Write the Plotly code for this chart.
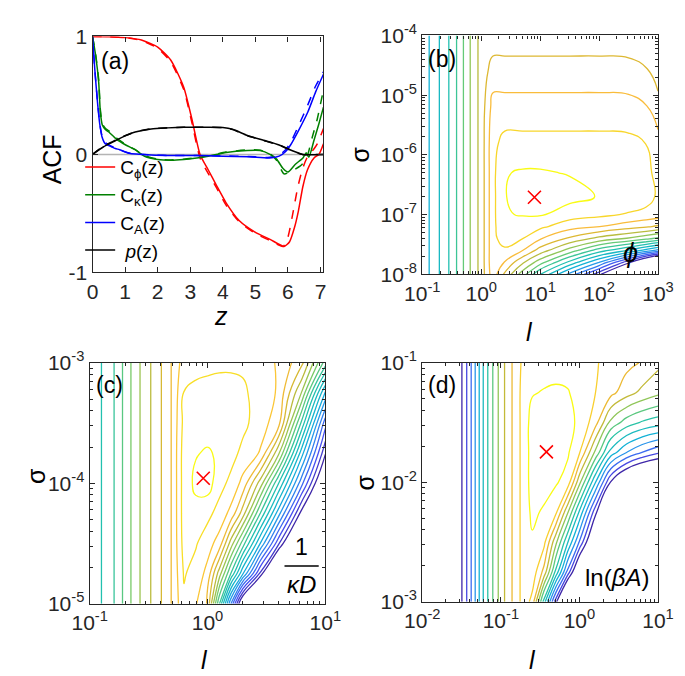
import plotly.graph_objects as go

FONT = "Liberation Sans, Arial, Helvetica, sans-serif"
W, H = 685, 676
AX = "#262626"

# ---------------- (a) autocorrelation functions ----------------
z_phi = [0.0, 0.5, 1.0, 1.5, 2.0, 2.4, 2.8, 3.05, 3.3, 3.55, 3.8, 4.1, 4.5, 5.0, 5.45, 5.88,
         6.05, 6.2, 6.32, 6.46, 6.6, 6.8, 6.95, 7.09]
c_phi = [1.0, 0.998, 0.99, 0.97, 0.91, 0.80, 0.57, 0.30, 0.0, -0.13, -0.26, -0.41, -0.56, -0.66,
         -0.72, -0.78, -0.74, -0.62, -0.48, -0.27, -0.13, -0.03, 0.0, 0.09]
z_phi_d = [0.0, 0.5, 1.0, 1.5, 2.0, 2.4, 2.8, 3.05, 3.3, 3.55, 3.8, 4.1, 4.5, 5.0, 5.45, 5.85,
           6.0, 6.15, 6.3, 6.45, 6.6, 6.75, 6.9, 7.09]
c_phi_d = [1.0, 0.998, 0.99, 0.965, 0.90, 0.785, 0.55, 0.27, -0.03, -0.16, -0.28, -0.43, -0.57,
           -0.67, -0.73, -0.78, -0.70, -0.50, -0.28, -0.12, -0.02, 0.03, 0.09, 0.22]

z_kap = [0.0, 0.1, 0.19, 0.24, 0.3, 0.4, 0.5, 0.73, 1.02, 1.31, 1.6, 2.0, 2.4, 2.8, 3.2, 3.55,
         4.1, 4.75, 5.15, 5.45, 5.65, 5.85, 6.0, 6.22, 6.46, 6.56, 6.64, 6.8, 6.95, 7.09]
c_kap = [1.0, 0.83, 0.61, 0.36, 0.25, 0.21, 0.19, 0.13, 0.08, 0.04, -0.016, -0.043, -0.049,
         -0.043, -0.03, -0.015, 0.016, 0.033, 0.033, 0.0, -0.04, -0.12, -0.15, -0.085, -0.03,
         0.015, -0.025, 0.12, 0.26, 0.40]
z_kap_d = [0.0, 0.1, 0.19, 0.24, 0.3, 0.4, 0.5, 0.73, 1.02, 1.31, 1.6, 2.0, 2.4, 2.8, 3.2, 3.55,
           4.1, 4.75, 5.15, 5.45, 5.65, 5.88, 6.12, 6.37, 6.51, 6.61, 6.75, 6.9, 7.09]
c_kap_d = [1.0, 0.84, 0.63, 0.38, 0.26, 0.22, 0.2, 0.14, 0.085, 0.04, -0.01, -0.04, -0.047,
           -0.04, -0.028, -0.012, 0.02, 0.038, 0.036, 0.005, -0.05, -0.165, -0.14, -0.10,
           -0.06, 0.0, 0.15, 0.30, 0.55]

z_A = [0.0, 0.07, 0.15, 0.22, 0.29, 0.39, 0.5, 0.58, 0.7, 0.83, 1.12, 1.8, 2.5, 3.2, 4.0, 4.8,
       5.44, 5.73, 5.93, 6.08, 6.32, 6.61, 6.85, 7.09]
c_A = [1.0, 0.72, 0.45, 0.26, 0.15, 0.09, 0.075, 0.065, 0.05, 0.04, 0.01, -0.005, -0.01, -0.01,
       -0.015, -0.02, -0.03, -0.015, 0.025, 0.08, 0.2, 0.36, 0.53, 0.68]
c_A_d = [1.0, 0.72, 0.46, 0.27, 0.16, 0.10, 0.08, 0.07, 0.055, 0.04, 0.012, -0.004, -0.01, -0.01,
         -0.013, -0.018, -0.025, -0.005, 0.04, 0.10, 0.24, 0.42, 0.58, 0.70]

z_p = [0.0, 0.34, 0.63, 0.92, 1.31, 1.8, 2.3, 2.8, 3.5, 4.0, 4.3, 4.76, 5.25, 5.73, 6.12, 6.45, 7.09]
c_p = [0.0, 0.065, 0.106, 0.147, 0.19, 0.216, 0.225, 0.23, 0.23, 0.228, 0.213, 0.16, 0.12, 0.08,
       0.033, 0.0, 0.0]
c_p_d = [0.0, 0.07, 0.11, 0.15, 0.192, 0.217, 0.226, 0.23, 0.23, 0.227, 0.21, 0.158, 0.118, 0.078,
         0.03, 0.0, 0.0]

# ---------------- (b) phi landscape (log10 l, log10 sigma) ----------------
b_log_l = [-1.0, -0.8, -0.6, -0.4, -0.2, 0.0, 0.2, 0.4, 0.7, 1.0, 1.5, 2.0, 2.5, 2.8, 3.0]
b_log_sigma = [-8.0, -7.8, -7.6, -7.4, -7.2, -7.0, -6.7, -6.3, -5.8, -5.2, -4.6, -4.0]
b_value = [
    [0.30, 0.375, 0.445, 0.54, 0.65, 0.745, 0.88, 0.77, 0.625, 0.47, 0.26, 0.05, -0.25, -0.45, -0.60],
    [0.30, 0.375, 0.445, 0.54, 0.65, 0.745, 0.89, 0.84, 0.73, 0.62, 0.45, 0.28, 0.05, -0.15, -0.30],
    [0.30, 0.375, 0.445, 0.54, 0.65, 0.745, 0.89, 0.895, 0.845, 0.755, 0.63, 0.50, 0.40, 0.32, 0.26],
    [0.30, 0.375, 0.445, 0.54, 0.65, 0.745, 0.89, 0.935, 0.908, 0.85, 0.77, 0.70, 0.65, 0.61, 0.58],
    [0.30, 0.375, 0.445, 0.54, 0.65, 0.745, 0.89, 0.955, 0.94, 0.92, 0.87, 0.845, 0.81, 0.79, 0.772],
    [0.30, 0.375, 0.445, 0.54, 0.65, 0.745, 0.89, 0.965, 0.972, 0.975, 0.935, 0.92, 0.90, 0.885, 0.875],
    [0.30, 0.375, 0.445, 0.54, 0.65, 0.745, 0.89, 0.965, 1.0, 1.0, 0.99, 0.965, 0.952, 0.935, 0.895],
    [0.30, 0.375, 0.445, 0.54, 0.65, 0.745, 0.89, 0.965, 0.975, 0.975, 0.965, 0.945, 0.942, 0.925, 0.885],
    [0.30, 0.375, 0.445, 0.54, 0.65, 0.745, 0.89, 0.925, 0.925, 0.925, 0.925, 0.925, 0.922, 0.905, 0.865],
    [0.30, 0.375, 0.445, 0.54, 0.65, 0.745, 0.868, 0.868, 0.868, 0.868, 0.868, 0.868, 0.865, 0.848, 0.808],
    [0.30, 0.375, 0.445, 0.54, 0.65, 0.745, 0.808, 0.808, 0.808, 0.808, 0.808, 0.808, 0.805, 0.788, 0.748],
    [0.30, 0.375, 0.445, 0.54, 0.65, 0.745, 0.745, 0.745, 0.745, 0.745, 0.745, 0.745, 0.742, 0.74, 0.73],
]
b_best = (8.0, 1.95e-7)

# ---------------- (c) 1/(kappa D) landscape ----------------
c_log_l = [-1.0, -0.8, -0.6, -0.4, -0.3, -0.2, -0.1, 0.0, 0.1, 0.2, 0.3, 0.45, 0.6, 0.8, 1.0]
c_log_sigma = [-5.0, -4.75, -4.5, -4.25, -4.0, -3.75, -3.5, -3.25, -3.0]
c_value = [
    [0.43, 0.52, 0.66, 0.77, 0.83, 0.915, 0.88, 0.82, 0.53, 0.22, -0.08, -0.40, -0.80, -1.50, -2.00],
    [0.43, 0.52, 0.66, 0.77, 0.83, 0.93, 0.905, 0.86, 0.70, 0.52, 0.33, 0.06, -0.22, -0.60, -0.70],
    [0.43, 0.52, 0.66, 0.77, 0.83, 0.945, 0.93, 0.895, 0.855, 0.70, 0.55, 0.32, 0.09, -0.22, -0.50],
    [0.43, 0.52, 0.66, 0.77, 0.83, 0.95, 0.96, 0.94, 0.905, 0.86, 0.75, 0.52, 0.30, 0.0, -0.30],
    [0.43, 0.52, 0.66, 0.77, 0.83, 0.95, 0.985, 0.998, 0.945, 0.91, 0.86, 0.70, 0.48, 0.19, -0.10],
    [0.43, 0.52, 0.66, 0.77, 0.83, 0.95, 0.972, 0.98, 0.968, 0.945, 0.91, 0.87, 0.69, 0.345, 0.03],
    [0.43, 0.52, 0.66, 0.77, 0.83, 0.94, 0.95, 0.955, 0.955, 0.95, 0.94, 0.895, 0.85, 0.51, 0.145],
    [0.43, 0.52, 0.66, 0.77, 0.83, 0.927, 0.94, 0.945, 0.945, 0.945, 0.935, 0.90, 0.87, 0.67, 0.315],
    [0.43, 0.52, 0.66, 0.77, 0.83, 0.90, 0.905, 0.91, 0.915, 0.915, 0.915, 0.895, 0.87, 0.79, 0.55],
]
c_best = (0.92, 1.1e-4)

# ---------------- (d) ln(beta A) landscape ----------------
d_log_l = [-2.0, -1.6, -1.5, -1.4, -1.3, -1.2, -1.1, -1.0, -0.9, -0.8, -0.7, -0.6, -0.45, -0.3,
           -0.15, 0.0, 0.2, 0.4, 0.6, 0.8, 1.0]
d_log_sigma = [-3.0, -2.75, -2.5, -2.25, -2.0, -1.75, -1.5, -1.25, -1.0]
d_value = [
    [-0.6, -0.07, 0.035, 0.16, 0.31, 0.46, 0.58, 0.69, 0.775, 0.85, 0.925,
     0.857, 0.46, 0.067, -0.33, -0.60, -0.80, -0.90, -1.0, -1.0, -1.0],
    [-0.6, -0.07, 0.035, 0.16, 0.31, 0.46, 0.58, 0.69, 0.775, 0.85, 0.925,
     0.935, 0.78, 0.48, 0.17, -0.14, -0.50, -0.70, -0.80, -0.80, -0.80],
    [-0.6, -0.07, 0.035, 0.16, 0.31, 0.46, 0.58, 0.69, 0.775, 0.85, 0.925,
     0.95, 0.905, 0.672, 0.43, 0.187, -0.14, -0.40, -0.50, -0.55, -0.60],
    [-0.6, -0.07, 0.035, 0.16, 0.31, 0.46, 0.58, 0.69, 0.775, 0.85, 0.925,
     0.975, 0.95, 0.90, 0.663, 0.41, 0.07, -0.25, -0.40, -0.45, -0.50],
    [-0.6, -0.07, 0.035, 0.16, 0.31, 0.46, 0.58, 0.69, 0.775, 0.85, 0.925,
     0.99, 0.99, 0.968, 0.93, 0.675, 0.355, 0.03, -0.15, -0.25, -0.30],
    [-0.6, -0.07, 0.035, 0.16, 0.31, 0.46, 0.58, 0.69, 0.775, 0.85, 0.925,
     0.99, 1.0, 0.99, 0.97, 0.89, 0.64, 0.39, 0.27, 0.19, 0.13],
    [-0.6, -0.07, 0.035, 0.16, 0.31, 0.46, 0.58, 0.69, 0.775, 0.85, 0.925,
     0.99, 0.995, 0.99, 0.975, 0.95, 0.84, 0.63, 0.54, 0.49, 0.46],
    [-0.6, -0.07, 0.035, 0.16, 0.31, 0.46, 0.58, 0.69, 0.775, 0.85, 0.925,
     0.955, 0.965, 0.97, 0.965, 0.935, 0.885, 0.83, 0.76, 0.71, 0.67],
    [-0.6, -0.07, 0.035, 0.16, 0.31, 0.46, 0.58, 0.69, 0.775, 0.85, 0.91,
     0.915, 0.93, 0.935, 0.93, 0.915, 0.89, 0.86, 0.83, 0.80, 0.75],
]
d_best = (0.38, 0.018)

PARULA = [
    [0.000, "rgb(62,38,168)"], [0.111, "rgb(72,82,244)"], [0.254, "rgb(39,150,235)"],
    [0.333, "rgb(18,177,214)"], [0.492, "rgb(36,194,170)"], [0.619, "rgb(113,203,110)"],
    [0.683, "rgb(155,196,81)"], [0.746, "rgb(193,186,58)"], [0.810, "rgb(226,184,49)"],
    [0.873, "rgb(252,189,60)"], [0.937, "rgb(248,216,42)"], [1.000, "rgb(249,251,21)"],
]


def px(x):
    return x / W


def py(y):
    return 1 - y / H


fig = go.Figure()

# zero reference line in (a)
fig.add_shape(type="line", xref="x", yref="y", x0=0, x1=7.09, y0=0, y1=0,
              line=dict(color="#b4b4b4", width=1.5), layer="below")

series_a = [
    (z_phi, c_phi, z_phi_d, c_phi_d, "red", "C<sub>ϕ</sub>(z)"),
    (z_kap, c_kap, z_kap_d, c_kap_d, "#008000", "C<sub>κ</sub>(z)"),
    (z_A, c_A, z_A, c_A_d, "blue", "C<sub>A</sub>(z)"),
    (z_p, c_p, z_p, c_p_d, "black", " <i>p</i>(z)"),
]
for zs, cs, zd, cd, col, name in series_a:
    fig.add_trace(go.Scatter(x=zd, y=cd, mode="lines", showlegend=False, hoverinfo="skip",
                             line=dict(color=col, width=1.5, dash="dash", shape="spline", smoothing=0.6),
                             xaxis="x", yaxis="y"))
for zs, cs, zd, cd, col, name in series_a:
    fig.add_trace(go.Scatter(x=zs, y=cs, mode="lines", name=name, hoverinfo="skip",
                             line=dict(color=col, width=1.5, shape="spline", smoothing=0.6),
                             xaxis="x", yaxis="y"))


def add_contour(lx, ly, val, start, end, size, ax, best):
    fig.add_trace(go.Contour(
        x=[10 ** v for v in lx], y=[10 ** v for v in ly], z=val,
        autocontour=False, contours=dict(coloring="lines", start=start, end=end, size=size),
        colorscale=PARULA, showscale=False, line=dict(width=1.3, smoothing=1.3),
        hoverinfo="skip", xaxis="x" + ax, yaxis="y" + ax))
    fig.add_trace(go.Scatter(x=[best[0]], y=[best[1]], mode="markers", showlegend=False,
                             hoverinfo="skip",
                             marker=dict(symbol="x-thin", size=13, color="red",
                                         line=dict(color="red", width=1.6)),
                             xaxis="x" + ax, yaxis="y" + ax))


add_contour(b_log_l, b_log_sigma, b_value, 0.03125, 0.96875, 0.0625, "2", b_best)
add_contour(c_log_l, c_log_sigma, c_value, 0.025, 0.975, 0.05, "3", c_best)
add_contour(d_log_l, d_log_sigma, d_value, 0.04, 0.96, 0.92 / 12, "4", d_best)

base = dict(showline=True, linecolor=AX, linewidth=1.2, mirror="ticks", ticks="inside",
            ticklen=5, tickwidth=1, tickcolor=AX, showgrid=False, zeroline=False,
            tickfont=dict(family=FONT, size=21, color=AX), fixedrange=True)


def log_axis(domain, lo, hi, anchor):
    vals = [10 ** e for e in range(lo, hi + 1)]
    text = ["10<sup>%d</sup>" % e for e in range(lo, hi + 1)]
    minor_vals = [m * 10 ** e for e in range(lo, hi) for m in range(2, 10)]
    d = dict(base)
    d.update(type="log", domain=domain, range=[lo, hi], tickvals=vals, ticktext=text,
             anchor=anchor,
             minor=dict(ticks="inside", ticklen=3, tickwidth=1, tickcolor=AX,
                        tickmode="array", tickvals=minor_vals, showgrid=False))
    return d


xa = dict(base)
xa.update(domain=[70 / W, 313 / W], range=[0, 7.09], tickvals=list(range(8)),
          ticktext=[str(i) for i in range(8)], anchor="y")
ya = dict(base)
ya.update(domain=[py(260), py(15)], range=[-1, 1], tickvals=[-1, 0, 1],
          ticktext=["-1", "0", "1"], anchor="x")

fig.update_layout(
    width=W, height=H, margin=dict(l=0, r=0, t=0, b=0), autosize=False,
    paper_bgcolor="white", plot_bgcolor="white",
    font=dict(family=FONT, color="black"),
    xaxis=xa, yaxis=ya,
    xaxis2=log_axis([417 / W, 665 / W], -1, 3, "y2"),
    yaxis2=log_axis([py(262), py(14)], -8, -4, "x2"),
    xaxis3=log_axis([67 / W, 315 / W], -1, 1, "y3"),
    yaxis3=log_axis([py(604), py(354)], -5, -3, "x3"),
    xaxis4=log_axis([417 / W, 665 / W], -2, 1, "y4"),
    yaxis4=log_axis([py(602), py(354)], -3, -1, "x4"),
    showlegend=True,
    legend=dict(x=px(57), y=py(131), xanchor="left", yanchor="top",
                bgcolor="rgba(0,0,0,0)", borderwidth=0,
                font=dict(family=FONT, size=19, color="black"), tracegroupgap=0),
)


def label(x, y, text, size=25, angle=0):
    return dict(x=px(x), y=py(y), xref="paper", yref="paper", text=text, showarrow=False,
                font=dict(family=FONT, size=size, color="black"), textangle=angle,
                xanchor="center", yanchor="middle")


annotations = [
    label(27, 143, "ACF", 25, -90),
    label(205, 305, "<i>z</i>", 25),
    label(351, 138, "σ", 25, -90),
    label(530, 322, "<i>l</i>", 25),
    label(10, 472, "σ", 25, -90),
    label(188, 662, "<i>l</i>", 25),
    label(357, 478, "σ", 25, -90),
    label(533, 662, "<i>l</i>", 25),
    label(94, 41, "(a)", 23),
    label(438, 38, "(b)", 23),
    label(88, 377, "(c)", 23),
    label(438, 377, "(d)", 23),
    label(636, 240, "<i>ϕ</i>", 27),
    label(290, 545, "1", 23),
    label(290, 584, "<i>κD</i>", 24),
    label(622, 577, "ln(<i>βA</i>)", 24),
]
fig.update_layout(annotations=annotations)
fig.add_shape(type="line", xref="paper", yref="paper", x0=px(272), x1=px(308),
              y0=py(565), y1=py(565), line=dict(color="black", width=1.5))

fig.write_html("out.html")
